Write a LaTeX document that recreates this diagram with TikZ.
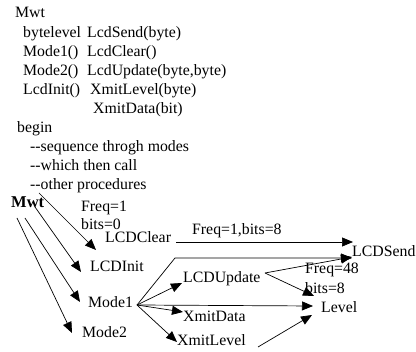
\documentclass[tikz,border=0pt]{standalone}
\usepackage{fontspec}
\setmainfont{Liberation Serif}
\usetikzlibrary{arrows.meta}
\begin{document}
\begin{tikzpicture}[x=1pt,y=-1pt,
  txt/.style={anchor=base west,inner sep=0pt,font=\fontsize{15.8}{19}\selectfont},
  bold/.style={txt,font=\fontsize{16.5}{19}\selectfont\bfseries},
  conn/.style={line width=0.7pt,-{Triangle[length=11pt,width=9pt]}}]
\useasboundingbox (0,0) rectangle (416,352);
% code listing
\node[txt] (t0) at (15,18) {Mwt};
\node[txt] (t1a) at (23,37.1) {bytelevel};
\node[txt] (t1b) at (87,37.1) {LcdSend(byte)};
\node[txt] (t2a) at (23,56.2) {Mode1()};
\node[txt] (t2b) at (87,56.2) {LcdClear()};
\node[txt] (t3a) at (23,75.3) {Mode2()};
\node[txt] (t3b) at (87,75.3) {LcdUpdate(byte,byte)};
\node[txt] (t4a) at (23,94.4) {LcdInit()};
\node[txt] (t4b) at (90,94.4) {XmitLevel(byte)};
\node[txt] (t5) at (93,113.5) {XmitData(bit)};
\node[txt] (t6) at (17,132.6) {begin};
\node[txt] (t7) at (30,151.7) {-{}-sequence throgh modes};
\node[txt] (t8) at (30,170.8) {-{}-which then call};
\node[txt] (t9) at (30,189.9) {-{}-other procedures};
% diagram nodes
\node[bold] (Mwt) at (11,208) {Mwt};
\node[txt] (f1) at (81,212) {Freq=1};
\node[txt] (b0) at (81,230) {bits=0};
\node[txt] (LCDClear) at (105,243) {LCDClear};
\node[txt] (LCDInit) at (90,272) {LCDInit};
\node[txt] (Mode1) at (88,308) {Mode1};
\node[txt] (Mode2) at (82,338) {Mode2};
\node[txt] (LCDUpdate) at (183,283) {LCDUpdate};
\node[txt] (XmitData) at (183,322) {XmitData};
\node[txt] (XmitLevel) at (177,346) {XmitLevel};
\node[txt] (Level) at (321,313) {Level};
\node[txt] (LCDSend) at (352,257) {LCDSend};
\node[txt] (f1b8) at (192,235) {Freq=1,bits=8};
\node[txt] (f48) at (305,274) {Freq=48};
\node[txt] (b8) at (305,294) {bits=8};
% connector endpoints
\coordinate (mw1) at (39,193);
\coordinate (mw2) at (35,207);
\coordinate (mw3) at (25,218);
\coordinate (mw4) at (17,218);
\coordinate (inClear) at (96,250);
\coordinate (inInit) at (81,272);
\coordinate (inMode1) at (80,302);
\coordinate (inMode2) at (72,333);
\coordinate (outClear) at (176,242);
\coordinate (inSend1) at (353,242);
\coordinate (outMode1) at (137,305);
\coordinate (bend) at (175,258);
\coordinate (inSend2) at (352,258);
\coordinate (outUpd) at (265,273);
\coordinate (inSend3) at (352,257);
\coordinate (inLevel1) at (314,296);
\coordinate (inLevel2) at (313,306);
\coordinate (inUpd) at (182,283);
\coordinate (inData) at (183,312);
\coordinate (inXLev) at (177,342);
\coordinate (outXLev) at (258,347);
\coordinate (inLevel3) at (312,315);
% connectors
\draw[conn] (mw1) -- (inClear);
\draw[conn] (mw2) -- (inInit);
\draw[conn] (mw3) -- (inMode1);
\draw[conn] (mw4) -- (inMode2);
\draw[conn] (outClear) -- (inSend1);
\draw[conn] (outMode1) -- (bend) -- (inSend2);
\draw[conn] (outUpd) -- (inSend3);
\draw[conn] (outUpd) -- (inLevel1);
\draw[conn] (outMode1) -- (inLevel2);
\draw[conn] (outMode1) -- (inUpd);
\draw[conn] (outMode1) -- (inData);
\draw[conn] (outMode1) -- (inXLev);
\draw[conn] (outXLev) -- (inLevel3);
\end{tikzpicture}
\end{document}
